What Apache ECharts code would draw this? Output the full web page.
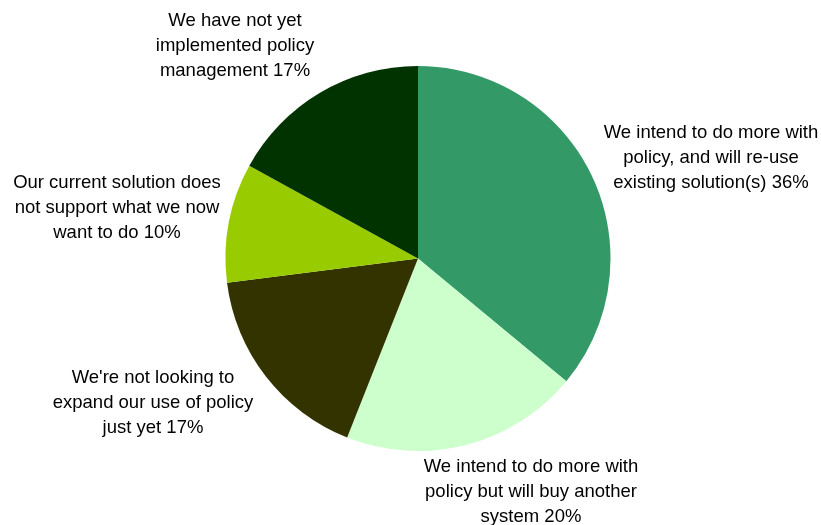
<!DOCTYPE html>
<html>
<head>
<meta charset="utf-8">
<script src="https://cdn.jsdelivr.net/npm/echarts@6/dist/echarts.min.js"></script>
<style>
  html, body { margin: 0; padding: 0; background: #ffffff; }
  #chart { width: 821px; height: 525px; }
</style>
</head>
<body>
<div id="chart"></div>
<script>
// Survey answers, clockwise from 12 o'clock
const categories = [
  "We intend to do more with\npolicy, and will re-use\nexisting solution(s)",
  "We intend to do more with\npolicy but will buy another\nsystem",
  "We're not looking to\nexpand our use of policy\njust yet",
  "Our current solution does\nnot support what we now\nwant to do",
  "We have not yet\nimplemented policy\nmanagement"
];
const shares = [36, 20, 17, 10, 17];
const sliceColors = ["#339966", "#CCFFCC", "#333300", "#99CC00", "#003300"];

// Label anchor points (text centre) for each slice
const labelAnchors = [
  [711, 158],
  [531, 492],
  [153, 403],
  [117, 208],
  [235, 46]
];

const chart = echarts.init(document.getElementById('chart'), null, { renderer: 'canvas' });

chart.setOption({
  animation: false,
  backgroundColor: '#ffffff',
  series: [{
    type: 'pie',
    center: [418, 258.5],
    radius: 192.5,
    startAngle: 90,
    clockwise: true,
    silent: true,
    avoidLabelOverlap: false,
    data: categories.map((name, i) => ({
      name: name,
      value: shares[i],
      itemStyle: { color: sliceColors[i] }
    })),
    itemStyle: { borderWidth: 0 },
    label: {
      show: true,
      position: 'outside',
      formatter: '{b} {c}%',
      fontFamily: '"Liberation Sans", Arial, sans-serif',
      fontSize: 18.5,
      lineHeight: 25,
      color: '#000000',
      align: 'center',
      overflow: 'none'
    },
    labelLine: { show: false },
    labelLayout: function (params) {
      const p = labelAnchors[params.dataIndex];
      return { x: p[0], y: p[1], align: 'center', verticalAlign: 'middle' };
    }
  }]
});
</script>
</body>
</html>
